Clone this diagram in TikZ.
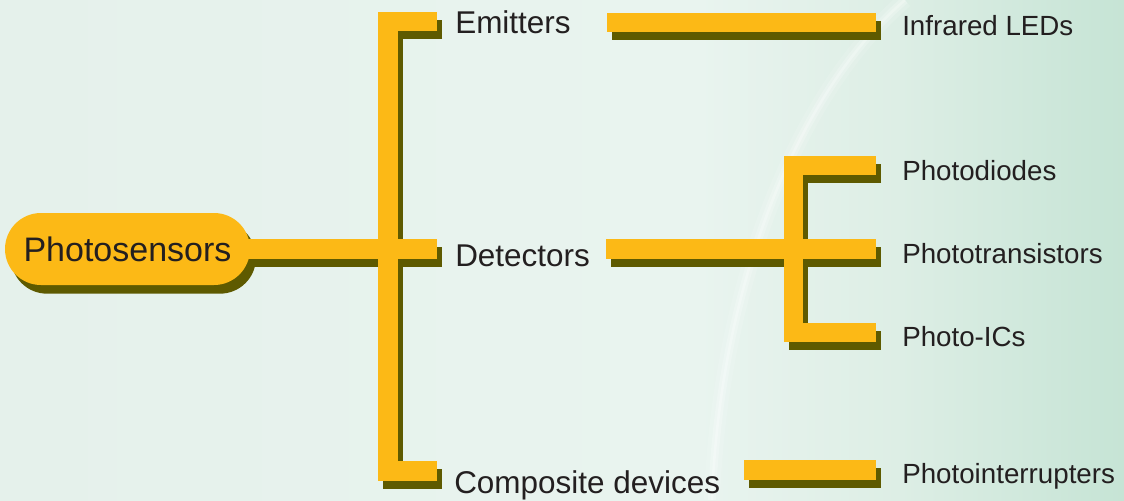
\documentclass[tikz,border=0pt]{standalone}
\usepackage{fontspec}
\setmainfont{Liberation Sans}
\usetikzlibrary{shadows}
\definecolor{barc}{RGB}{252,185,22}
\definecolor{shdc}{RGB}{94,90,0}
\definecolor{txtc}{RGB}{35,31,32}
\definecolor{bgL}{RGB}{229,241,235}
\definecolor{bgM}{RGB}{233,244,239}
\definecolor{bgG}{RGB}{221,238,229}
\definecolor{bgR}{RGB}{198,228,213}
\pgfdeclarehorizontalshading{bgshade}{100bp}{color(0bp)=(bgL); color(25bp)=(bgL); color(56bp)=(bgM); color(65bp)=(bgG); color(75bp)=(bgR); color(100bp)=(bgR)}
\begin{document}
\begin{tikzpicture}[x=0.75pt,y=-0.75pt,
  bar/.style={line width=14.6pt, line join=miter, line cap=butt},
  rootbox/.style={fill=barc, rounded corners=27pt, minimum width=183.75pt, minimum height=54pt,
    inner sep=0pt, text=txtc, font=\fontsize{25.5}{30}\selectfont, text height=18.3pt, text depth=0pt,
    general shadow={fill=shdc, shadow xshift=4.5pt, shadow yshift=-6.5pt}},
  labone/.style={anchor=base west, inner sep=0pt, text=txtc, font=\fontsize{23.6}{28}\selectfont},
  labtwo/.style={anchor=base west, inner sep=0pt, text=txtc, font=\fontsize{20.8}{25}\selectfont}]
\useasboundingbox (0,0) rectangle (1124,500);
\shade[shading=bgshade] (0,0) rectangle (1124,500);
% light streak
\draw[white, opacity=0.12, line width=12pt] (905,0) .. controls (800,90) and (720,280) .. (712,500);
\draw[white, opacity=0.2, line width=6pt] (905,0) .. controls (800,90) and (720,280) .. (712,500);
\draw[white, opacity=0.25, line width=2pt] (905,0) .. controls (800,90) and (720,280) .. (712,500);
% nodes
\node[rootbox] (root) at (127.5,249) {Photosensors};
\node[labone] (emit) at (455,33) {Emitters};
\node[labone] (det) at (455,266) {Detectors};
\node[labone] (comp) at (454,493) {Composite devices};
\node[labtwo] (ired) at (902,35) {Infrared LEDs};
\node[labtwo] (pdio) at (902,180) {Photodiodes};
\node[labtwo] (ptra) at (902,263) {Phototransistors};
\node[labtwo] (pic) at (902,346) {Photo-ICs};
\node[labtwo] (pint) at (902,483) {Photointerrupters};
% connector joints
\coordinate (a1) at (437,21.5);
\coordinate (a0) at (388,21.5);
\coordinate (a3) at (388,471);
\coordinate (a4) at (437,471);
\coordinate (a2) at (437,249);
\coordinate (b1s) at (607,22.5);
\coordinate (b1e) at (876,22.5);
\coordinate (b2s) at (606,249);
\coordinate (b2e) at (876,249);
\coordinate (c0) at (793.5,165.5);
\coordinate (c1) at (876,165.5);
\coordinate (c2) at (793.5,332.5);
\coordinate (c3) at (876,332.5);
\coordinate (b3s) at (744,470);
\coordinate (b3e) at (876,470);
\newcommand\mmconnectors[1]{%
  \draw[bar,#1] (a1) -- (a0) -- (a3) -- (a4);
  \draw[bar,#1] ([xshift=-4pt]root.east) -- (root.east -| a2);
  \draw[bar,#1] (b1s) -- (b1e);
  \draw[bar,#1] (b2s) -- (b2e);
  \draw[bar,#1] (c1) -- (c0) -- (c2) -- (c3);
  \draw[bar,#1] (b3s) -- (b3e);
}
\begin{scope}[transform canvas={xshift=3.75pt,yshift=-6pt}]
  \mmconnectors{shdc}
\end{scope}
\mmconnectors{barc}
\end{tikzpicture}
\end{document}
